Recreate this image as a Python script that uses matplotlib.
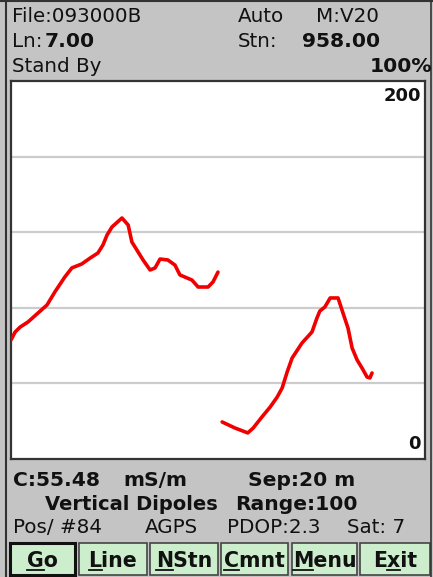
import matplotlib
matplotlib.use("Agg")
import matplotlib.pyplot as plt
from matplotlib.patches import Rectangle
from matplotlib.lines import Line2D

# ---- data ----
seg1_x = [0.0, 1.0, 2.2, 4.1, 6.5, 8.7, 10.6, 13.0, 14.7, 17.1, 19.1, 21.0, 22.2, 23.2, 24.4,
          26.8, 28.3, 29.2, 30.4, 31.9, 33.6, 34.8, 36.0, 37.9, 39.6, 40.8, 42.5, 43.7, 45.2,
          47.6, 48.8, 50.0]
seg1_y = [63.0, 67.2, 69.8, 72.5, 77.2, 81.5, 88.4, 96.3, 101.1, 103.2, 106.3, 109.0, 113.2,
          118.5, 122.8, 127.5, 123.8, 114.8, 110.6, 105.3, 100.0, 101.1, 105.8, 105.3, 102.6,
          97.4, 95.8, 94.7, 91.0, 91.0, 93.7, 98.9]
seg2_x = [51.0, 54.1, 57.2, 58.5, 60.6, 62.6, 64.3, 65.5, 66.7, 67.9, 70.3, 72.7, 73.9, 74.6,
          75.8, 77.1, 79.0, 80.2, 81.4, 82.4, 83.6, 84.8, 86.0, 86.7, 87.2]
seg2_y = [19.6, 16.4, 13.8, 16.4, 22.2, 27.5, 32.8, 37.6, 46.0, 53.4, 61.4, 67.2, 74.6, 78.3,
          80.4, 85.2, 85.2, 77.2, 69.3, 58.7, 52.4, 48.1, 43.4, 42.9, 45.5]
y_ticks = [40, 80, 120, 160]
y_min, y_max = 0, 200
buttons = ["Go", "Line", "NStn", "Cmnt", "Menu", "Exit"]
underline_idx = [0, 0, 0, 0, 0, 1]

W, H = 433, 577
BG = "#c4c4c4"
fig = plt.figure(figsize=(W / 100, H / 100), dpi=100, facecolor=BG)
plt.rcParams['font.family'] = ['DejaVu Sans']

NS = 14.3   # normal text size
BS = 14.6   # bold text size


def fx(x):
    return x / W


def fy(y):
    return 1 - y / H


def txt(x, y, s, size=NS, weight="normal", ha="left", va="baseline"):
    return fig.text(fx(x), fy(y), s, fontsize=size, fontweight=weight, ha=ha, va=va,
                    color="#111111")


# outer screen frame
fig.add_artist(Line2D([fx(5.5), fx(5.5)], [0, 1], color="#333333", lw=1.5))
fig.add_artist(Line2D([fx(431), fx(431)], [0, 1], color="#333333", lw=1.2))
fig.add_artist(Line2D([0, 1], [fy(1), fy(1)], color="#333333", lw=1.5))

# plot axes
ax = fig.add_axes([fx(11), fy(459), (425 - 11) / W, (459 - 81) / H])
ax.set_facecolor("white")
ax.set_xlim(0, 100)
ax.set_ylim(y_min, y_max)
for yv in y_ticks:
    ax.axhline(yv, color="#cccccc", lw=1.6, zorder=1)
ax.plot(seg1_x, seg1_y, color="#f00000", lw=2.6, solid_capstyle="round", zorder=3)
ax.plot(seg2_x, seg2_y, color="#f00000", lw=2.6, solid_capstyle="round", zorder=3)
ax.set_xticks([])
ax.set_yticks([])
for sp in ax.spines.values():
    sp.set_color("#333333")
    sp.set_linewidth(1.6)
ax.text(0.99, 0.985, str(y_max), transform=ax.transAxes, ha="right", va="top",
        fontsize=13, fontweight="bold", color="#111111")
ax.text(0.99, 0.015, str(y_min), transform=ax.transAxes, ha="right", va="bottom",
        fontsize=13, fontweight="bold", color="#111111")

# header
txt(12, 22, "File:093000B")
txt(238, 22, "Auto")
txt(316, 22, "M:V20")
txt(12, 47, "Ln:")
txt(45, 47, "7.00", BS, "bold")
txt(238, 47, "Stn:")
txt(302, 47, "958.00", BS, "bold")
txt(12, 72, "Stand By")
txt(432, 72, "100%", BS, "bold", ha="right")

# footer rows
txt(13, 486, "C:55.48", BS, "bold")
txt(123, 486, "mS/m", BS, "bold")
txt(248, 486, "Sep:20 m", BS, "bold")
txt(45, 510, "Vertical Dipoles", 14.0, "bold")
txt(235, 510, "Range:100", BS, "bold")
txt(13, 533, "Pos/ #84")
txt(145, 533, "AGPS")
txt(227, 533, "PDOP:2.3")
txt(347, 533, "Sat: 7")

# buttons
bx = [(10, 75), (79, 147), (150, 218), (221, 288), (292, 357), (360, 430)]
BTN = 14.8
fig.canvas.draw()
renderer = fig.canvas.get_renderer()
for i, ((x0, x1), lab) in enumerate(zip(bx, buttons)):
    sel = i == 0
    fig.add_artist(Rectangle((fx(x0), fy(575)), (x1 - x0) / W, (575 - 543) / H,
                             facecolor="#cdeecd", edgecolor="#111111" if sel else "#444444",
                             lw=2.2 if sel else 1.2, transform=fig.transFigure))
    cx = (x0 + x1) / 2
    tt = fig.text(fx(cx), fy(567), lab, fontsize=BTN, fontweight="bold", ha="center",
                  va="baseline", color="#111111")
    bb = tt.get_window_extent(renderer)
    k = underline_idx[i]
    pre = fig.text(0, 0, lab[:k], fontsize=BTN, fontweight="bold")
    upto = fig.text(0, 0, lab[:k + 1], fontsize=BTN, fontweight="bold")
    w0 = pre.get_window_extent(renderer).width if k > 0 else 0
    w1 = upto.get_window_extent(renderer).width
    pre.remove()
    upto.remove()
    ux0 = bb.x0 + w0
    ux1 = bb.x0 + w1
    uy = fy(570) * H
    fig.add_artist(Line2D([ux0 / W, ux1 / W], [uy / H, uy / H], color="#111111", lw=1.3))

fig.savefig("out.png", dpi=100, facecolor=BG)
